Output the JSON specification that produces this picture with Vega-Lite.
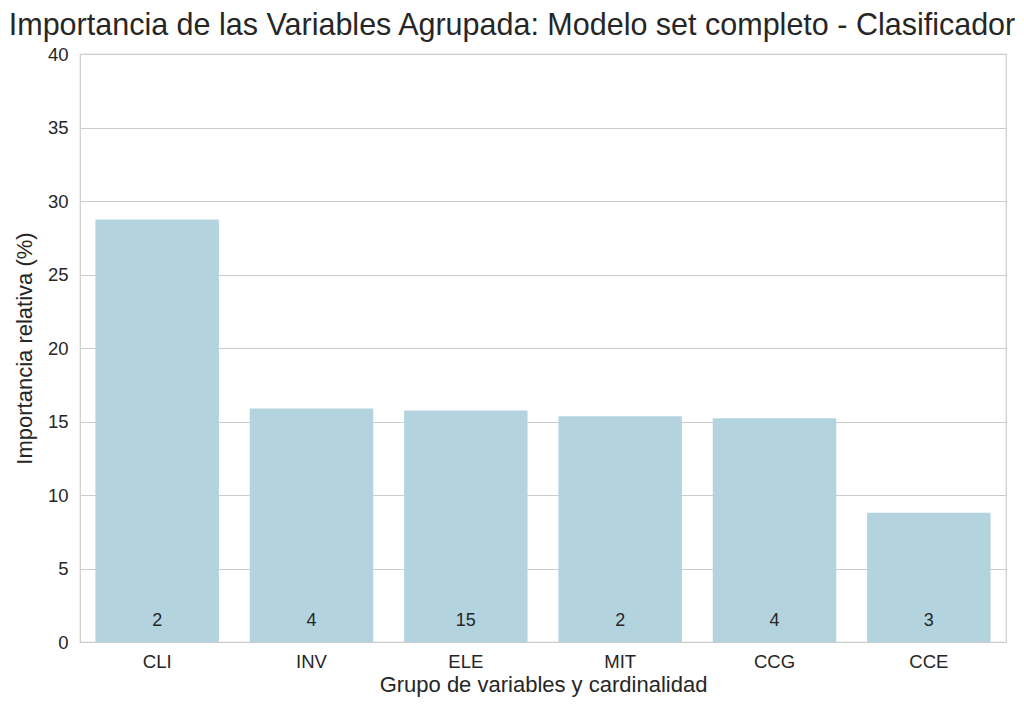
{
  "$schema": "https://vega.github.io/schema/vega-lite/v6.json",
  "width": 926,
  "height": 588,
  "autosize": {"type": "none"},
  "padding": {"left": 80, "top": 54, "right": 18, "bottom": 67},
  "background": "white",
  "config": {
    "font": "Liberation Sans",
    "view": {"stroke": "#cccccc", "strokeWidth": 1.2}
  },
  "title": {
    "text": "Importancia de las Variables Agrupada: Modelo set completo - Clasificador",
    "fontSize": 30.5,
    "fontWeight": "normal",
    "color": "#262626",
    "anchor": "middle",
    "frame": "group",
    "dx": -31,
    "offset": 4,
    "font": "Liberation Sans"
  },
  "data": {
    "values": [
      {"grupo": "CLI", "importancia": 28.75, "n": 2},
      {"grupo": "INV", "importancia": 15.88, "n": 4},
      {"grupo": "ELE", "importancia": 15.74, "n": 15},
      {"grupo": "MIT", "importancia": 15.35, "n": 2},
      {"grupo": "CCG", "importancia": 15.22, "n": 4},
      {"grupo": "CCE", "importancia": 8.8, "n": 3}
    ]
  },
  "encoding": {
    "x": {
      "field": "grupo",
      "type": "nominal",
      "sort": null,
      "scale": {"paddingInner": 0.2, "paddingOuter": 0.1},
      "axis": {
        "title": "Grupo de variables y cardinalidad",
        "titleFontSize": 22,
        "titleFontWeight": "normal",
        "titleColor": "#262626",
        "titlePadding": 4,
        "labelFontSize": 18.5,
        "labelColor": "#262626",
        "labelAngle": 0,
        "labelPadding": 10,
        "ticks": false,
        "domain": false,
        "grid": false
      }
    }
  },
  "layer": [
    {
      "mark": {"type": "bar", "color": "#b3d4df"},
      "encoding": {
        "y": {
          "field": "importancia",
          "type": "quantitative",
          "scale": {"domain": [0, 40], "nice": false},
          "axis": {
            "title": "Importancia relativa (%)",
            "titleFontSize": 22,
            "titleFontWeight": "normal",
            "titleColor": "#262626",
            "titlePadding": 11,
            "labelFontSize": 18.5,
            "labelColor": "#262626",
            "labelPadding": 12,
            "values": [0, 5, 10, 15, 20, 25, 30, 35, 40],
            "ticks": false,
            "domain": false,
            "grid": true,
            "gridColor": "#cccccc",
            "gridWidth": 1.2
          }
        }
      }
    },
    {
      "mark": {"type": "text", "fontSize": 18, "color": "#262626", "baseline": "middle", "dy": -21},
      "encoding": {
        "y": {"datum": 0},
        "text": {"field": "n", "type": "quantitative"}
      }
    }
  ]
}
